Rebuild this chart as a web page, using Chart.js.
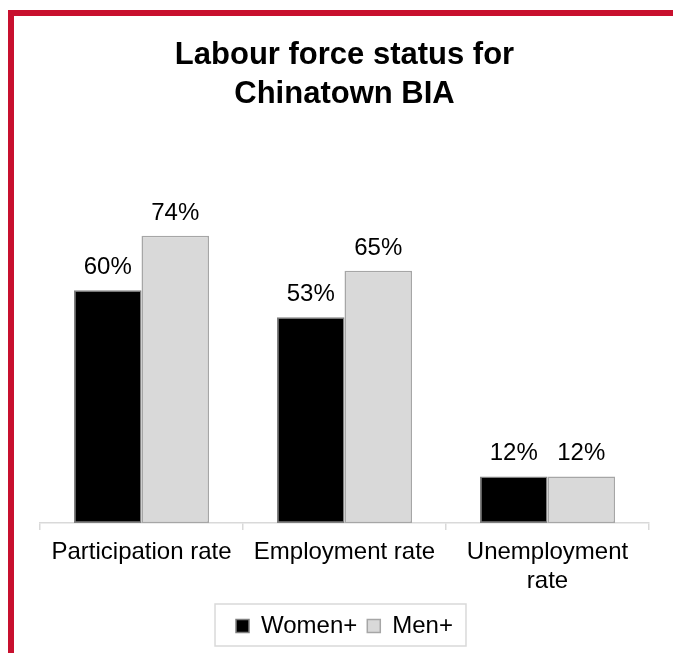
<!DOCTYPE html>
<html>
<head>
<meta charset="utf-8">
<script src="https://cdn.jsdelivr.net/npm/chart.js@4"></script>
<style>
  html, body { margin: 0; padding: 0; background: #fff; overflow: hidden; }
  #frame {
    position: absolute; left: 8px; top: 10px; width: 700px; height: 700px;
    border-left: 6px solid #c8102e; border-top: 6px solid #c8102e;
  }
  #wrap { position: absolute; left: 0; top: 0; width: 673px; height: 653px; }
</style>
</head>
<body>
<div id="frame"></div>
<div id="wrap"><canvas id="myChart" width="673" height="653"></canvas></div>
<script>
// chart data
const categories = ['Participation rate', 'Employment rate', ['Unemployment', 'rate']];
const women = [60, 53, 12];
const men = [74, 65, 12];
const seriesNames = ['Women+', 'Men+'];

const FONT = "'Liberation Sans', Arial, sans-serif";

// writes the % value above each bar
const barLabels = {
    id: 'barLabels',
    afterDatasetsDraw(chart) {
        const ctx = chart.ctx;
        ctx.save();
        ctx.font = '24px ' + FONT;
        ctx.fillStyle = '#000';
        ctx.textAlign = 'center';
        ctx.textBaseline = 'alphabetic';
        chart.data.datasets.forEach((ds, i) => {
            chart.getDatasetMeta(i).data.forEach((bar, j) => {
                ctx.fillText(ds.data[j] + '%', bar.x, bar.y - 16);
            });
        });
        ctx.restore();
    }
};

// light frame round the legend, like the original
const legendFrame = {
    id: 'legendFrame',
    afterDraw(chart) {
        const lg = chart.legend;
        if (!lg || !lg.legendHitBoxes.length) return;
        const boxes = lg.legendHitBoxes;
        const last = boxes[boxes.length - 1];
        const left = boxes[0].left - 21;
        const right = last.left + last.width + 13;
        const ctx = chart.ctx;
        ctx.save();
        ctx.strokeStyle = '#d9d9d9';
        ctx.lineWidth = 1.5;
        ctx.strokeRect(left, lg.top, right - left, 42);
        ctx.restore();
    }
};

const ctx = document.getElementById('myChart').getContext('2d');
const myChartObj = new Chart(ctx, {
    type: 'bar',
    data: {
        labels: categories,
        datasets: [{
            label: seriesNames[0],
            data: women,
            backgroundColor: '#000000',
            borderColor: '#7f7f7f',
            borderWidth: 1.5,
            borderSkipped: false
        }, {
            label: seriesNames[1],
            data: men,
            backgroundColor: '#d9d9d9',
            borderColor: '#a6a6a6',
            borderWidth: 1.5,
            borderSkipped: false
        }]
    },
    options: {
        responsive: false,
        animation: false,
        layout: { padding: { left: 40, right: 24, top: 0, bottom: 5 } },
        datasets: { bar: { categoryPercentage: 0.665, barPercentage: 1 } },
        scales: {
            x: {
                grid: {
                    display: true,
                    drawOnChartArea: false,
                    drawTicks: true,
                    tickLength: 7,
                    color: '#d9d9d9',
                    lineWidth: 1.5
                },
                border: { display: true, color: '#d9d9d9', width: 1.5 },
                ticks: {
                    color: '#000',
                    font: { family: FONT, size: 24 },
                    padding: 8,
                    maxRotation: 0,
                    autoSkip: false
                },
                afterFit(scale) { scale.height = 81; }
            },
            y: {
                display: false,
                min: 0,
                max: 80
            }
        },
        plugins: {
            title: {
                display: true,
                text: ['Labour force status for', 'Chinatown BIA'],
                color: '#000',
                font: { family: FONT, size: 31, weight: 'bold', lineHeight: 1.25 },
                padding: { top: 36, bottom: 99 }
            },
            legend: {
                position: 'bottom',
                labels: {
                    color: '#000',
                    font: { family: FONT, size: 24 },
                    boxWidth: 13,
                    boxHeight: 13,
                    padding: 10
                }
            },
            tooltip: { enabled: false }
        }
    },
    plugins: [barLabels, legendFrame]
});
</script>
</body>
</html>
